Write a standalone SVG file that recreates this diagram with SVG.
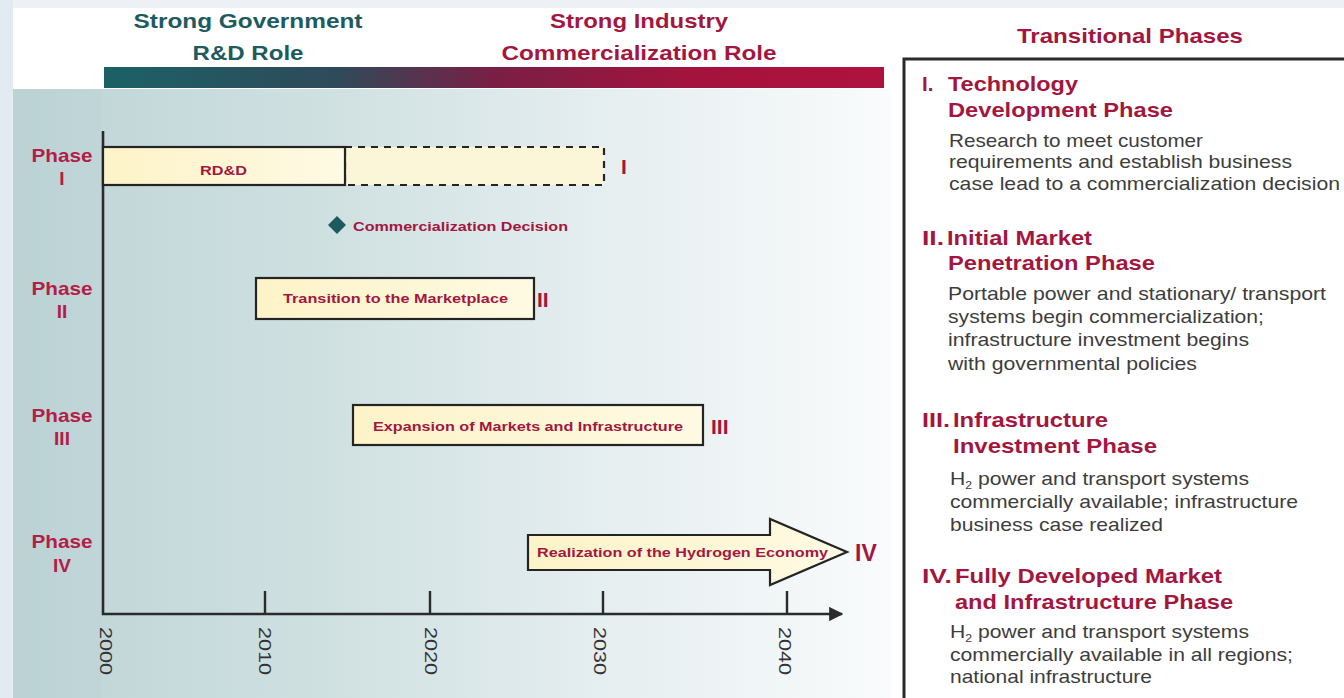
<svg xmlns="http://www.w3.org/2000/svg" width="1344" height="698" viewBox="0 0 1344 698">
  <defs>
    <linearGradient id="roleBar" x1="0" y1="0" x2="1" y2="0">
      <stop offset="0" stop-color="#1b6166"/>
      <stop offset="0.3" stop-color="#2f4a5a"/>
      <stop offset="0.5" stop-color="#7a1f45"/>
      <stop offset="0.75" stop-color="#a3133d"/>
      <stop offset="1" stop-color="#b0123e"/>
    </linearGradient>
    <linearGradient id="panelBg" x1="0" y1="0" x2="1" y2="0">
      <stop offset="0" stop-color="#bed4d6"/>
      <stop offset="0.35" stop-color="#cfe0e1"/>
      <stop offset="0.7" stop-color="#e7eff1"/>
      <stop offset="1" stop-color="#f9fbfc"/>
    </linearGradient>
    <linearGradient id="creamFill" x1="0" y1="0" x2="1" y2="0">
      <stop offset="0" stop-color="#fdf3c8"/>
      <stop offset="1" stop-color="#fefae3"/>
    </linearGradient>
    <marker id="axisHead" viewBox="0 0 10 10" refX="9" refY="5" markerWidth="5.5" markerHeight="5.5" orient="auto" markerUnits="strokeWidth">
      <path d="M0,0 L10,5 L0,10 z" fill="#2b2b2b"/>
    </marker>
    <style>
      text { font-family: "Liberation Sans", Arial, sans-serif; }
      .hdr-gov { font-weight: bold; font-size: 21px; fill: #1e5b5f; text-anchor: middle; }
      .hdr-ind { font-weight: bold; font-size: 21px; fill: #a3173f; text-anchor: middle; }
      .phase-lbl { font-weight: bold; font-size: 19px; fill: #b31d47; text-anchor: middle; }
      .bar { fill: url(#creamFill); stroke: #242424; stroke-width: 2.2; }
      .bar-dash { fill: #fcf6d8; stroke: #242424; stroke-width: 2.2; stroke-dasharray: 7 6; }
      .bar-txt { font-weight: bold; font-size: 13.5px; fill: #a3173f; }
      .roman { font-weight: bold; font-size: 21px; fill: #a3173f; }
      .axis { stroke: #2b2b2b; stroke-width: 2.6; fill: none; }
      .tick { stroke: #2b2b2b; stroke-width: 2.4; }
      .year { font-size: 17px; fill: #333333; }
      .rt-title { font-weight: bold; font-size: 20.5px; fill: #a3173f; }
      .rt-body { font-size: 19px; fill: #3d3d3d; }
      .sub { font-size: 11px; }
    </style>
  </defs>

  <!-- page background -->
  <rect x="0" y="0" width="1344" height="698" fill="#ffffff"/>
  <rect x="0" y="0" width="1344" height="8" fill="#edf1f5"/>
  <rect x="0" y="0" width="13" height="698" fill="#e3ebf2"/>

  <!-- timeline panel -->
  <rect x="13" y="89" width="878" height="609" fill="url(#panelBg)"/>
  <rect x="13" y="89" width="88" height="609" fill="#b6cfd1" opacity="0.2"/>

  <!-- role headings and bar -->
  <g id="role-government">
    <text class="hdr-gov" x="248" y="28" textLength="229" lengthAdjust="spacingAndGlyphs">Strong Government</text>
    <text class="hdr-gov" x="248" y="60" textLength="111" lengthAdjust="spacingAndGlyphs">R&amp;D Role</text>
  </g>
  <g id="role-industry">
    <text class="hdr-ind" x="639" y="28" textLength="178" lengthAdjust="spacingAndGlyphs">Strong Industry</text>
    <text class="hdr-ind" x="639" y="60" textLength="275" lengthAdjust="spacingAndGlyphs">Commercialization Role</text>
  </g>
  <rect id="role-bar" x="104" y="67" width="780" height="21" fill="url(#roleBar)"/>

  <!-- phase row labels -->
  <g id="phase-labels">
    <text class="phase-lbl" x="62" y="162" textLength="61" lengthAdjust="spacingAndGlyphs">Phase</text>
    <text class="phase-lbl" x="62" y="185">I</text>
    <text class="phase-lbl" x="62" y="295" textLength="61" lengthAdjust="spacingAndGlyphs">Phase</text>
    <text class="phase-lbl" x="62" y="318">II</text>
    <text class="phase-lbl" x="62" y="422" textLength="61" lengthAdjust="spacingAndGlyphs">Phase</text>
    <text class="phase-lbl" x="62" y="445">III</text>
    <text class="phase-lbl" x="62" y="548" textLength="61" lengthAdjust="spacingAndGlyphs">Phase</text>
    <text class="phase-lbl" x="62" y="572">IV</text>
  </g>

  <!-- timeline axes -->
  <g id="connectors">
    <path class="axis" d="M103,131 L103,614 L842,614" marker-end="url(#axisHead)"/>
    <line class="tick" x1="265" y1="591" x2="265" y2="614"/>
    <line class="tick" x1="430" y1="591" x2="430" y2="614"/>
    <line class="tick" x1="603" y1="591" x2="603" y2="614"/>
    <line class="tick" x1="787" y1="591" x2="787" y2="614"/>
  </g>

  <g id="year-labels">
    <text class="year" transform="translate(100,627) rotate(90)" textLength="48" lengthAdjust="spacingAndGlyphs">2000</text>
    <text class="year" transform="translate(259,627) rotate(90)" textLength="48" lengthAdjust="spacingAndGlyphs">2010</text>
    <text class="year" transform="translate(425,627) rotate(90)" textLength="48" lengthAdjust="spacingAndGlyphs">2020</text>
    <text class="year" transform="translate(594,627) rotate(90)" textLength="48" lengthAdjust="spacingAndGlyphs">2030</text>
    <text class="year" transform="translate(779,627) rotate(90)" textLength="48" lengthAdjust="spacingAndGlyphs">2040</text>
  </g>

  <!-- Phase I: RD&D -->
  <g id="phase-i">
    <rect class="bar-dash" x="345" y="147" width="259" height="38"/>
    <rect class="bar" x="103" y="147" width="242" height="38"/>
    <text class="bar-txt" x="200" y="175" textLength="47" lengthAdjust="spacingAndGlyphs">RD&amp;D</text>
    <text class="roman" x="621" y="174">I</text>
  </g>

  <!-- commercialization decision milestone -->
  <g id="commercialization-decision">
    <path d="M337,216 L346,225 L337,234 L328,225 z" fill="#1d5a5e"/>
    <text class="bar-txt" x="353" y="231" textLength="215" lengthAdjust="spacingAndGlyphs">Commercialization Decision</text>
  </g>

  <!-- Phase II -->
  <g id="phase-ii">
    <rect class="bar" x="256" y="278" width="278" height="41"/>
    <text class="bar-txt" x="283" y="303" textLength="225" lengthAdjust="spacingAndGlyphs">Transition to the Marketplace</text>
    <text class="roman" x="537" y="307">II</text>
  </g>

  <!-- Phase III -->
  <g id="phase-iii">
    <rect class="bar" x="353" y="405" width="350" height="40"/>
    <text class="bar-txt" x="373" y="431" textLength="310" lengthAdjust="spacingAndGlyphs">Expansion of Markets and Infrastructure</text>
    <text class="roman" x="711" y="434">III</text>
  </g>

  <!-- Phase IV -->
  <g id="phase-iv">
    <polygon class="bar" points="528,535 770,535 770,519 847,552 770,585 770,570 528,570"/>
    <text class="bar-txt" x="537" y="557" textLength="291" lengthAdjust="spacingAndGlyphs">Realization of the Hydrogen Economy</text>
    <text class="roman" x="855" y="561" style="font-size:23px">IV</text>
  </g>

  <!-- transitional phases legend -->
  <g id="transitional-phases">
    <text class="rt-title" x="1017" y="43" textLength="226" lengthAdjust="spacingAndGlyphs">Transitional Phases</text>
    <rect x="904" y="59" width="500" height="700" fill="#ffffff" stroke="#2a2a2a" stroke-width="3"/>

    <g id="legend-phase-i">
      <text class="rt-title" x="922" y="91">I.</text>
      <text class="rt-title" x="948" y="91" textLength="130" lengthAdjust="spacingAndGlyphs">Technology</text>
      <text class="rt-title" x="948" y="117" textLength="225" lengthAdjust="spacingAndGlyphs">Development Phase</text>
      <text class="rt-body" x="949" y="147" textLength="254" lengthAdjust="spacingAndGlyphs">Research to meet customer</text>
      <text class="rt-body" x="949" y="168" textLength="343" lengthAdjust="spacingAndGlyphs">requirements and establish business</text>
      <text class="rt-body" x="949" y="190" textLength="391" lengthAdjust="spacingAndGlyphs">case lead to a commercialization decision</text>
    </g>

    <g id="legend-phase-ii">
      <text class="rt-title" x="922" y="245" textLength="22" lengthAdjust="spacingAndGlyphs">II.</text>
      <text class="rt-title" x="947" y="245" textLength="145" lengthAdjust="spacingAndGlyphs">Initial Market</text>
      <text class="rt-title" x="948" y="270" textLength="207" lengthAdjust="spacingAndGlyphs">Penetration Phase</text>
      <text class="rt-body" x="948" y="300" textLength="378" lengthAdjust="spacingAndGlyphs">Portable power and stationary/ transport</text>
      <text class="rt-body" x="948" y="323" textLength="316" lengthAdjust="spacingAndGlyphs">systems begin commercialization;</text>
      <text class="rt-body" x="948" y="346" textLength="301" lengthAdjust="spacingAndGlyphs">infrastructure investment begins</text>
      <text class="rt-body" x="948" y="370" textLength="249" lengthAdjust="spacingAndGlyphs">with governmental policies</text>
    </g>

    <g id="legend-phase-iii">
      <text class="rt-title" x="922" y="427" textLength="28" lengthAdjust="spacingAndGlyphs">III.</text>
      <text class="rt-title" x="953" y="427" textLength="155" lengthAdjust="spacingAndGlyphs">Infrastructure</text>
      <text class="rt-title" x="953" y="453" textLength="204" lengthAdjust="spacingAndGlyphs">Investment Phase</text>
      <text class="rt-body" x="950" y="485" textLength="299" lengthAdjust="spacingAndGlyphs">H<tspan class="sub" dy="4">2</tspan><tspan dy="-4"> power and transport systems</tspan></text>
      <text class="rt-body" x="950" y="508" textLength="348" lengthAdjust="spacingAndGlyphs">commercially available; infrastructure</text>
      <text class="rt-body" x="950" y="531" textLength="213" lengthAdjust="spacingAndGlyphs">business case realized</text>
    </g>

    <g id="legend-phase-iv">
      <text class="rt-title" x="922" y="583" textLength="30" lengthAdjust="spacingAndGlyphs">IV.</text>
      <text class="rt-title" x="955" y="583" textLength="267" lengthAdjust="spacingAndGlyphs">Fully Developed Market</text>
      <text class="rt-title" x="955" y="609" textLength="278" lengthAdjust="spacingAndGlyphs">and Infrastructure Phase</text>
      <text class="rt-body" x="950" y="638" textLength="299" lengthAdjust="spacingAndGlyphs">H<tspan class="sub" dy="4">2</tspan><tspan dy="-4"> power and transport systems</tspan></text>
      <text class="rt-body" x="950" y="661" textLength="343" lengthAdjust="spacingAndGlyphs">commercially available in all regions;</text>
      <text class="rt-body" x="950" y="683" textLength="202" lengthAdjust="spacingAndGlyphs">national infrastructure</text>
    </g>
  </g>
</svg>
